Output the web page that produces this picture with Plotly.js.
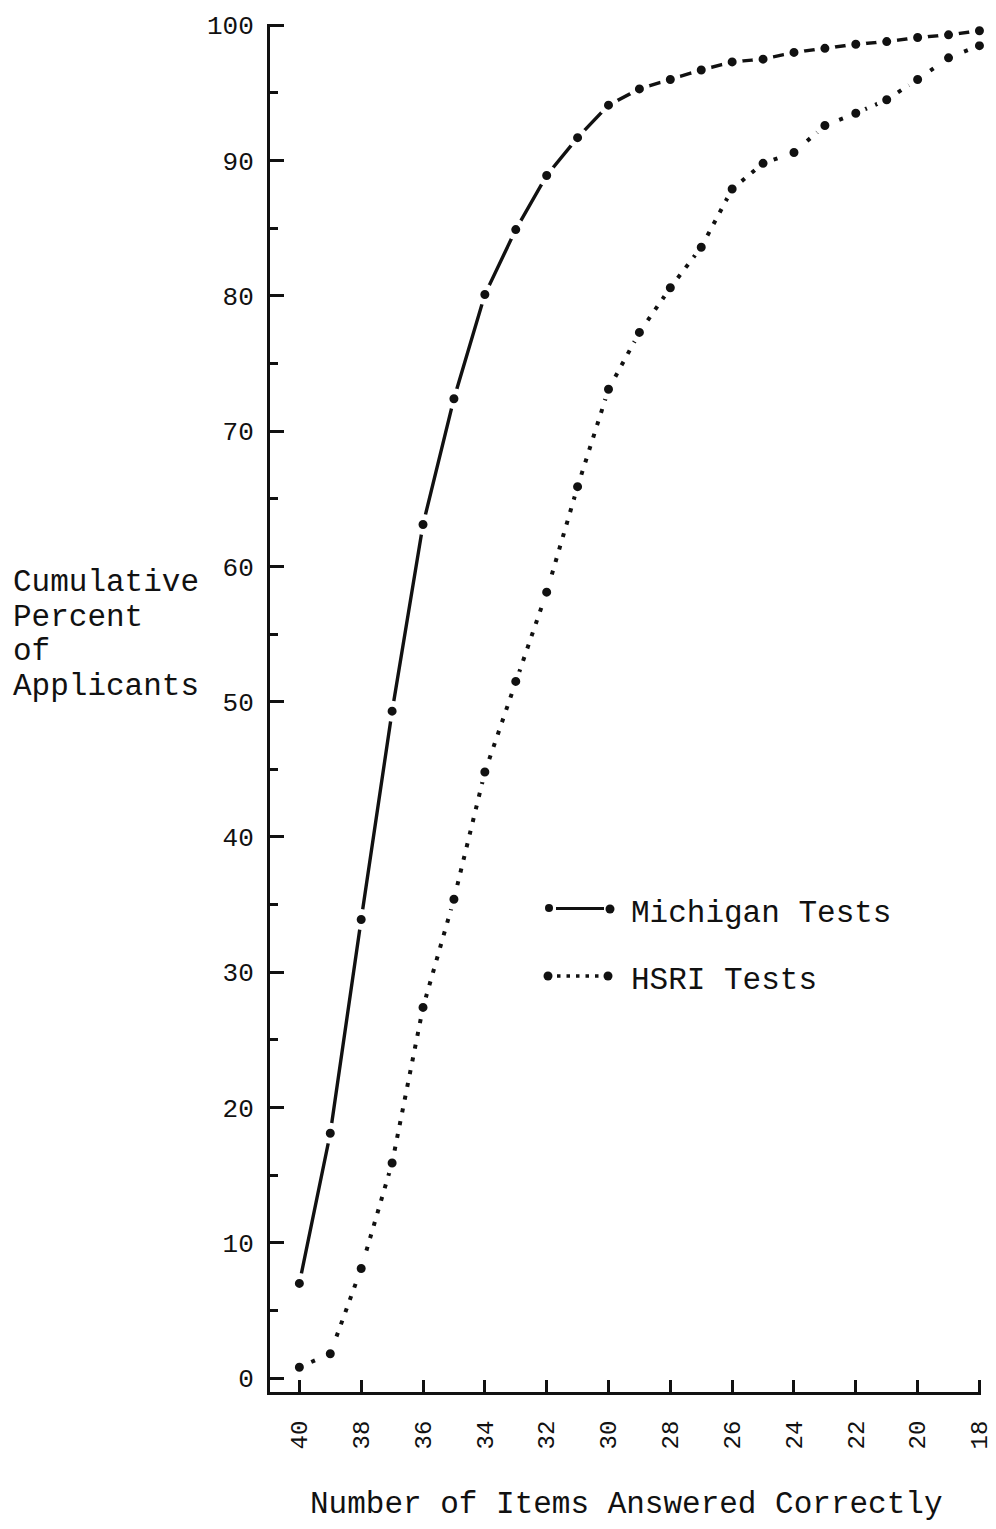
<!DOCTYPE html>
<html>
<head>
<meta charset="utf-8">
<script src="https://cdn.plot.ly/plotly-3.0.1.min.js"></script>
<style>html,body{margin:0;padding:0;background:#fff;}#chart{width:996px;height:1529px;}</style>
</head>
<body>
<div id="chart"></div>
<script>
// ---- data ----
const itemsCorrect = [40,39,38,37,36,35,34,33,32,31,30,29,28,27,26,25,24,23,22,21,20,19,18];
const michigan = [7.0,18.1,33.9,49.3,63.1,72.4,80.1,84.9,88.9,91.7,94.1,95.3,96.0,96.7,97.3,97.5,98.0,98.3,98.6,98.8,99.1,99.3,99.6];
const hsri     = [0.8,1.8,8.1,15.9,27.4,35.4,44.8,51.5,58.1,65.9,73.1,77.3,80.6,83.6,87.9,89.8,90.6,92.6,93.5,94.5,96.0,97.6,98.5];
const xTickVals = [40,38,36,34,32,30,28,26,24,22,20,18];
const xTickText = ["40","38","36","34","32","30","28","26","24","22","20","18"];
const yTickVals = [0,10,20,30,40,50,60,70,80,90,100];
const yMinorVals = [5,15,25,35,45,55,65,75,85,95];
const seriesNames = ["Michigan Tests","HSRI Tests"];
const yTitleLines = ["Cumulative","Percent","of","Applicants"];
const xTitle = "Number of Items Answered Correctly";

// ---- layout helpers (pixel -> paper) ----
const W = 996, H = 1529;
const M = {l:270, r:15, t:24, b:137};
const PW = W - M.l - M.r, PH = H - M.t - M.b;
const px = x => (x - M.l) / PW;
const py = y => (H - M.b - y) / PH;

const FONT = "Liberation Mono, DejaVu Sans Mono, monospace";
const INK = "#111";

const markerStyle = {symbol:"circle", size:15, color:INK, line:{color:"#fff", width:6}};

const traces = [
  {x:itemsCorrect, y:hsri, name:seriesNames[1], type:"scatter", mode:"lines+markers",
   line:{color:INK, width:4, dash:"4px,9px"}, marker:markerStyle, cliponaxis:false, showlegend:false},
  {x:itemsCorrect, y:michigan, name:seriesNames[0], type:"scatter", mode:"lines+markers",
   line:{color:INK, width:3.4}, marker:markerStyle, cliponaxis:false, showlegend:false}
];

const annotations = [
  {text:xTitle, xref:"paper", yref:"paper", x:px(626), y:py(1505), xanchor:"center", yanchor:"middle",
   showarrow:false, font:{family:FONT, size:31, color:INK}},
  {text:seriesNames[0], xref:"paper", yref:"paper", x:px(629), y:py(913), xanchor:"left", yanchor:"middle",
   showarrow:false, font:{family:FONT, size:31, color:INK}},
  {text:seriesNames[1], xref:"paper", yref:"paper", x:px(629), y:py(980), xanchor:"left", yanchor:"middle",
   showarrow:false, font:{family:FONT, size:31, color:INK}}
];
const yTitleY = [583,617,651,686];
yTitleLines.forEach((t,i)=>annotations.push({
  text:t, xref:"paper", yref:"paper", x:px(11), y:py(yTitleY[i]), xanchor:"left", yanchor:"middle",
  showarrow:false, font:{family:FONT, size:31, color:INK}
}));

// legend samples (decorative, in paper/pixel space)
function dot(cx, cy, r){
  return {type:"circle", xref:"paper", yref:"paper", xsizemode:"pixel", ysizemode:"pixel",
    xanchor:px(cx), yanchor:py(cy), x0:-r, x1:r, y0:-r, y1:r,
    fillcolor:INK, line:{width:0}};
}
const shapes = [
  dot(549,908,4), dot(610,909,4.5),
  {type:"line", xref:"paper", yref:"paper", x0:px(556), x1:px(604), y0:py(908.5), y1:py(908.5),
   line:{color:INK, width:3}},
  dot(548,976,4.5), dot(608,976,4.5),
  {type:"line", xref:"paper", yref:"paper", x0:px(557), x1:px(602), y0:py(976), y1:py(976),
   line:{color:INK, width:3.5, dash:"3.5px,6px"}}
];

const layout = {
  width:W, height:H, margin:M,
  paper_bgcolor:"#fff", plot_bgcolor:"#fff",
  showlegend:false, hovermode:false,
  font:{family:FONT, color:INK},
  xaxis:{
    range:[40.95,17.95], autorange:false, showgrid:false, zeroline:false,
    showline:true, linecolor:INK, linewidth:3,
    tickmode:"array", tickvals:xTickVals, ticktext:xTickText, tickangle:-90,
    ticks:"inside", ticklen:12, tickwidth:3, tickcolor:INK,
    ticklabelstandoff:16, ticklabeloverflow:"allow",
    tickfont:{family:FONT, size:24, color:INK}
  },
  yaxis:{
    range:[-1.03,100.1], autorange:false, showgrid:false, zeroline:false,
    showline:true, linecolor:INK, linewidth:3,
    tickmode:"array", tickvals:yTickVals,
    ticks:"inside", ticklen:14, tickwidth:3, tickcolor:INK,
    minor:{tickmode:"array", tickvals:yMinorVals, ticks:"inside", ticklen:8, tickwidth:3, tickcolor:INK, showgrid:false},
    ticklabelstandoff:8,
    tickfont:{family:FONT, size:26, color:INK}
  },
  annotations:annotations,
  shapes:shapes
};

Plotly.newPlot("chart", traces, layout, {staticPlot:true, displayModeBar:false});
</script>
</body>
</html>
